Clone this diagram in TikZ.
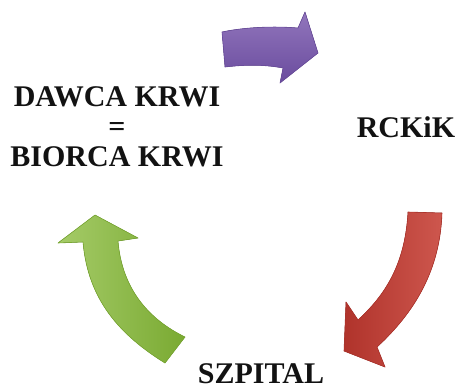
\documentclass[tikz,border=0pt]{standalone}
\usepackage{fontspec}
\setmainfont{Liberation Serif}
\definecolor{arrpurple}{HTML}{7E5DB0}
\definecolor{arrpurpledark}{HTML}{6A4C9E}
\definecolor{arrred}{HTML}{C8443A}
\definecolor{arrreddark}{HTML}{B0332B}
\definecolor{arrgreen}{HTML}{8EBE42}
\definecolor{arrgreendark}{HTML}{7AAA32}
\tikzset{
  label/.style={inner sep=0pt, font=\fontsize{30}{30}\selectfont\bfseries, text=black!93},
  bigarrow/.style={line join=round, line width=0.6pt}
}
\begin{document}
\begin{tikzpicture}[x=1pt,y=-1pt]
\useasboundingbox (0,0) rectangle (465,389);
% purple arrow (top)
\fill[bigarrow, top color=arrpurple!85!white, bottom color=arrpurpledark, draw=arrpurpledark]
  (222,32) .. controls (245,27) and (275,26) .. (298,28) -- (305,12) -- (318,53) -- (280,83) -- (283,68)
  .. controls (262,64) and (242,65) .. (225,67) -- cycle;
% red arrow (right)
\fill[bigarrow, left color=arrreddark, right color=arrred!90!white, draw=arrreddark]
  (408,212) -- (442,213) .. controls (440,270) and (415,312) .. (377,347) -- (385,367) -- (344,351)
  -- (346,302) -- (358,320) .. controls (385,295) and (405,265) .. (408,212) -- cycle;
% green arrow (left)
\fill[bigarrow, left color=arrgreen!80!white, right color=arrgreendark, draw=arrgreendark]
  (165,363) .. controls (120,335) and (88,300) .. (83,242) -- (58,243) -- (95,215) -- (138,238) -- (118,241)
  .. controls (122,290) and (150,320) .. (185,337) -- cycle;
% texts
\node[label, align=center, anchor=north] (dawca) at (117,86) {DAWCA KRWI\\=\\BIORCA KRWI};
\node[label, anchor=base] (rckik) at (406,137) {RCKiK};
\node[label, anchor=base] (szpital) at (261,383) {SZPITAL};
\end{tikzpicture}
\end{document}
